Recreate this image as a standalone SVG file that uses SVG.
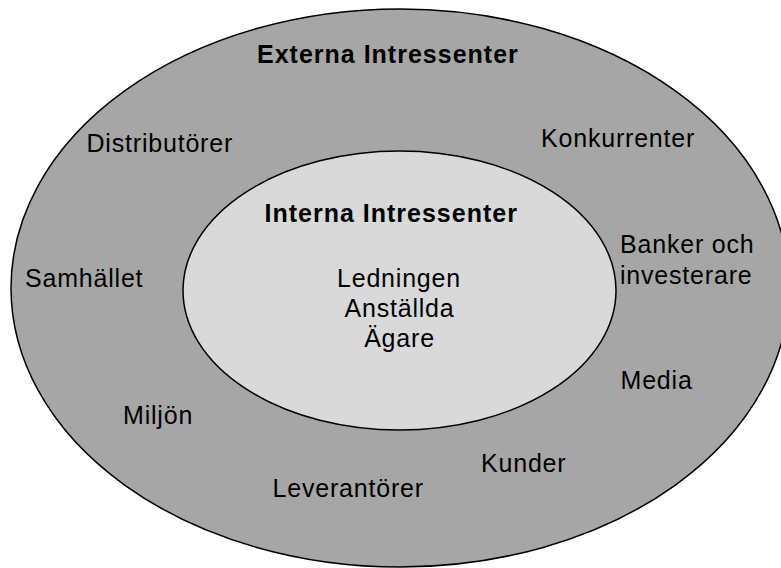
<svg xmlns="http://www.w3.org/2000/svg" width="781" height="568" viewBox="0 0 781 568">
  <style>
    .ring { stroke: #000; stroke-width: 1.5; }
    .outer { fill: #a6a6a6; }
    .inner { fill: #d9d9d9; }
    text { font-family: "Liberation Sans", Arial, sans-serif; font-size: 25px; fill: #000; letter-spacing: 0.8px; }
    .title { font-weight: bold; letter-spacing: 1px; }
    .mid { text-anchor: middle; }
  </style>

  <!-- External stakeholders: outer ring -->
  <g id="externa">
    <ellipse class="ring outer" cx="400" cy="288" rx="389" ry="279"/>
    <text class="title" x="257" y="63">Externa Intressenter</text>
  </g>

  <!-- Internal stakeholders: inner ellipse -->
  <g id="interna">
    <ellipse class="ring inner" cx="399.5" cy="290.5" rx="216.5" ry="139.5"/>
    <text class="title" x="264.5" y="222">Interna Intressenter</text>
    <text class="mid" x="399" y="287">Ledningen</text>
    <text class="mid" x="399.5" y="317">Anställda</text>
    <text class="mid" x="399.5" y="347">Ägare</text>
  </g>

  <!-- Labels placed around the outer ring -->
  <g id="distributorer"><text x="86.5" y="152">Distributörer</text></g>
  <g id="konkurrenter"><text x="541" y="147">Konkurrenter</text></g>
  <g id="samhallet"><text x="25" y="287">Samhället</text></g>
  <g id="banker"><text x="620" y="253">Banker och</text><text x="620" y="284">investerare</text></g>
  <g id="media"><text x="620.5" y="389">Media</text></g>
  <g id="miljon"><text x="123" y="424">Miljön</text></g>
  <g id="kunder"><text x="481" y="472">Kunder</text></g>
  <g id="leverantorer"><text x="272.5" y="497">Leverantörer</text></g>
</svg>
